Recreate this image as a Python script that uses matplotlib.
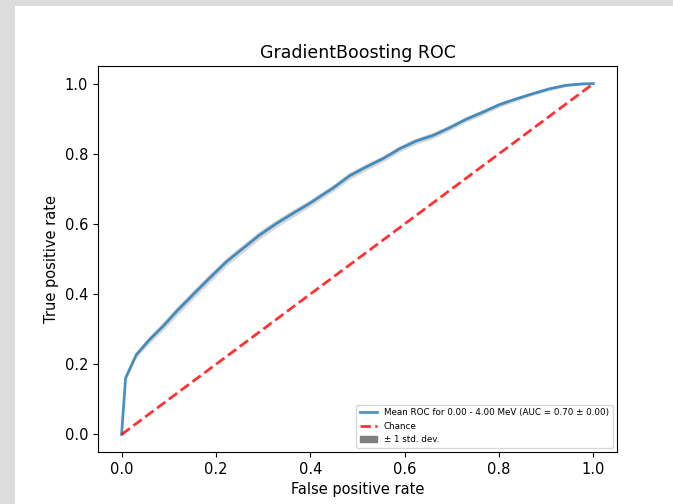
import matplotlib
matplotlib.use("Agg")
import matplotlib.pyplot as plt
from matplotlib.patches import Rectangle, Patch

# mean ROC curve
fpr = [0.0, 0.0085, 0.031, 0.059, 0.0875, 0.116, 0.151, 0.186, 0.222, 0.257,
       0.292, 0.328, 0.363, 0.398, 0.434, 0.448, 0.483, 0.518, 0.554, 0.589,
       0.624, 0.660, 0.695, 0.730, 0.765, 0.801, 0.836, 0.871, 0.907, 0.942,
       0.977, 1.0]
tpr = [0.0, 0.161, 0.227, 0.270, 0.308, 0.350, 0.398, 0.445, 0.492, 0.530,
       0.568, 0.601, 0.630, 0.658, 0.690, 0.702, 0.737, 0.762, 0.786, 0.814,
       0.836, 0.852, 0.874, 0.898, 0.918, 0.940, 0.956, 0.971, 0.985, 0.995,
       0.999, 1.0]
tpr_std = [0.0, 0.005, 0.008, 0.010, 0.012, 0.013, 0.013, 0.013, 0.012, 0.012,
           0.012, 0.011, 0.011, 0.010, 0.010, 0.010, 0.010, 0.010, 0.009, 0.009,
           0.009, 0.009, 0.008, 0.008, 0.008, 0.007, 0.006, 0.005, 0.005, 0.004,
           0.002, 0.0]
chance = [0.0, 1.0]

mean_label = "Mean ROC for 0.00 - 4.00 MeV (AUC = 0.70 ± 0.00)"

W, H = 673, 504
fig = plt.figure(figsize=(W / 100, H / 100), dpi=100, facecolor="#dcdcdc")
# white page area of the original screenshot
fig.patches.append(Rectangle((15 / W, 0), 1, 1 - 6 / H, transform=fig.transFigure,
                             facecolor="white", edgecolor="none", zorder=-10))
ax = fig.add_axes([98 / W, (H - 452) / H, (617 - 98) / W, (452 - 66) / H])
ax.set_zorder(1)

lower = [m - s for m, s in zip(tpr, tpr_std)]
upper = [m + s for m, s in zip(tpr, tpr_std)]

ax.plot(fpr, tpr, color="C0", lw=2, alpha=0.8, label=mean_label)
ax.plot(chance, chance, "--", color="r", lw=2, alpha=0.8, label="Chance")
ax.fill_between(fpr, lower, upper, color="grey", alpha=0.3, lw=0)

handles, labels = ax.get_legend_handles_labels()
handles.append(Patch(color="grey"))
labels.append("± 1 std. dev.")
ax.legend(handles, labels, loc="lower right", fontsize=6.3)

ax.set_xlim(-0.05, 1.05)
ax.set_ylim(-0.05, 1.05)
ax.tick_params(labelsize=10.5)
ax.set_xlabel("False positive rate", fontsize=10.5)
ax.set_ylabel("True positive rate", fontsize=10.5)
ax.set_title("GradientBoosting ROC", fontsize=12.5)

fig.savefig("out.png", dpi=100, facecolor=fig.get_facecolor())
